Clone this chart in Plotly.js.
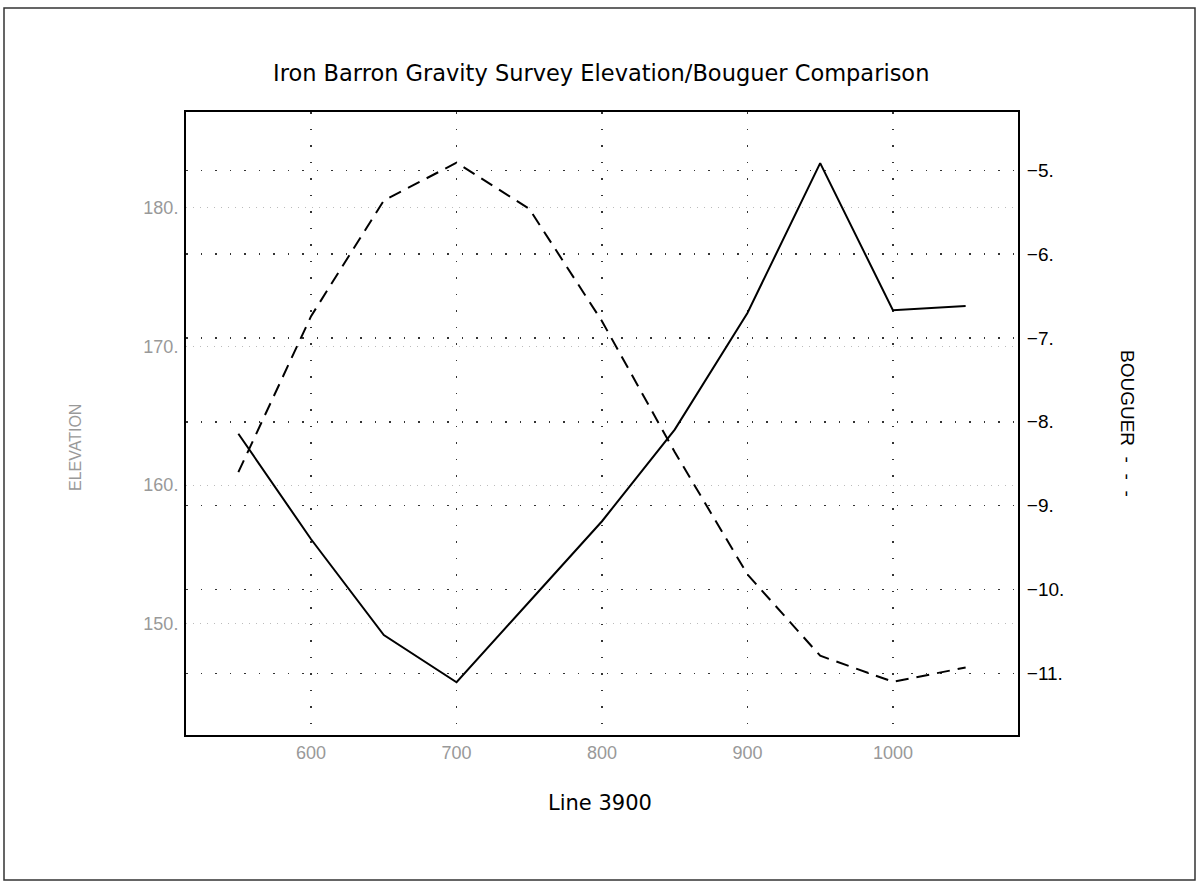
<!DOCTYPE html>
<html>
<head>
<meta charset="utf-8">
<script src="https://cdn.plot.ly/plotly-3.0.1.min.js"></script>
<style>html,body{margin:0;padding:0;background:#fff;}#chart{width:1200px;height:886px;}</style>
</head>
<body>
<div id="chart"></div>
<script>
// Data
const stations = [550, 600, 650, 700, 750, 800, 850, 900, 950, 1000, 1050];
const elevation = [163.7, 156.1, 149.2, 145.8, 151.6, 157.4, 164.0, 172.4, 183.2, 172.6, 172.9];
const bouguer = [-8.60, -6.74, -5.36, -4.91, -5.46, -6.80, -8.36, -9.82, -10.79, -11.10, -10.93];

const xTickVals = [600, 700, 800, 900, 1000];
const xTickText = ["600", "700", "800", "900", "1000"];
const elevTickVals = [150, 160, 170, 180];
const elevTickText = ["150.", "160.", "170.", "180."];
const bougTickVals = [-11, -10, -9, -8, -7, -6, -5];
const bougTickText = ["\u221211.", "\u221210.", "\u22129.", "\u22128.", "\u22127.", "\u22126.", "\u22125."];

const traces = [
  {x: stations, y: elevation, type: 'scatter', mode: 'lines', name: 'ELEVATION',
   line: {color: '#000', width: 2}, yaxis: 'y'},
  {x: stations, y: bouguer, type: 'scatter', mode: 'lines', name: 'BOUGUER',
   line: {color: '#000', width: 2, dash: '13px,8px'}, yaxis: 'y2'}
];

const tickFont = {family: 'Liberation Sans, Arial, sans-serif', size: 18, color: '#999'};
const layout = {
  width: 1200, height: 886,
  margin: {l: 186, r: 182, t: 112, b: 151},
  paper_bgcolor: '#fff', plot_bgcolor: '#fff',
  showlegend: false,
  xaxis: {range: [514, 1086], tickvals: xTickVals, ticktext: xTickText,
    showgrid: true, gridcolor: '#333', gridwidth: 1.5, griddash: '1.5px,15px',
    zeroline: false, showline: true, linecolor: '#000', linewidth: 2, mirror: true,
    ticks: '', tickfont: tickFont, ticklabelstandoff: 0},
  yaxis: {range: [142.0, 186.88], tickvals: elevTickVals, ticktext: elevTickText,
    showgrid: true, gridcolor: '#bbb', gridwidth: 1, griddash: '1px,6px',
    zeroline: false, showline: true, linecolor: '#000', linewidth: 2,
    ticks: '', tickfont: tickFont, ticklabelstandoff: 2},
  yaxis2: {range: [-11.735, -4.305], overlaying: 'y', side: 'right',
    tickvals: bougTickVals, ticktext: bougTickText,
    showgrid: true, gridcolor: '#333', gridwidth: 1.5, griddash: '1.5px,13px',
    zeroline: false, showline: true, linecolor: '#000', linewidth: 2,
    ticks: '', tickfont: {family: 'Liberation Sans, Arial, sans-serif', size: 19, color: '#000'},
    ticklabelstandoff: 3},
  annotations: [
    {text: 'Iron Barron Gravity Survey Elevation/Bouguer Comparison', xref: 'paper', yref: 'paper',
     x: (601 - 186) / 832, y: (735 - 73) / 623, xanchor: 'center', yanchor: 'middle', showarrow: false,
     font: {family: 'DejaVu Sans, sans-serif', size: 22.5, color: '#000'}},
    {text: 'Line 3900', xref: 'paper', yref: 'paper',
     x: (600 - 186) / 832, y: (735 - 803) / 623, xanchor: 'center', yanchor: 'middle', showarrow: false,
     font: {family: 'DejaVu Sans, sans-serif', size: 21, color: '#000'}},
    {text: 'ELEVATION', xref: 'paper', yref: 'paper', textangle: -90,
     x: (75 - 186) / 832, y: (735 - 448) / 623, xanchor: 'center', yanchor: 'middle', showarrow: false,
     font: {family: 'Liberation Sans, Arial, sans-serif', size: 16, color: '#999'}},
    {text: 'BOUGUER\u00a0\u00a0-\u00a0\u00a0-\u00a0\u00a0-', xref: 'paper', yref: 'paper', textangle: 90,
     x: (1127 - 186) / 832, y: (735 - 423) / 623, xanchor: 'center', yanchor: 'middle', showarrow: false,
     font: {family: 'Liberation Sans, Arial, sans-serif', size: 19, color: '#000'}}
  ],
  shapes: [
    {type: 'rect', xref: 'paper', yref: 'paper',
     x0: (4 - 186) / 832, x1: (1195 - 186) / 832,
     y0: (735 - 880) / 623, y1: (735 - 8) / 623,
     line: {color: '#333', width: 1.5}, fillcolor: 'rgba(0,0,0,0)'}
  ]
};

Plotly.newPlot('chart', traces, layout, {displayModeBar: false, staticPlot: true});
</script>
</body>
</html>
